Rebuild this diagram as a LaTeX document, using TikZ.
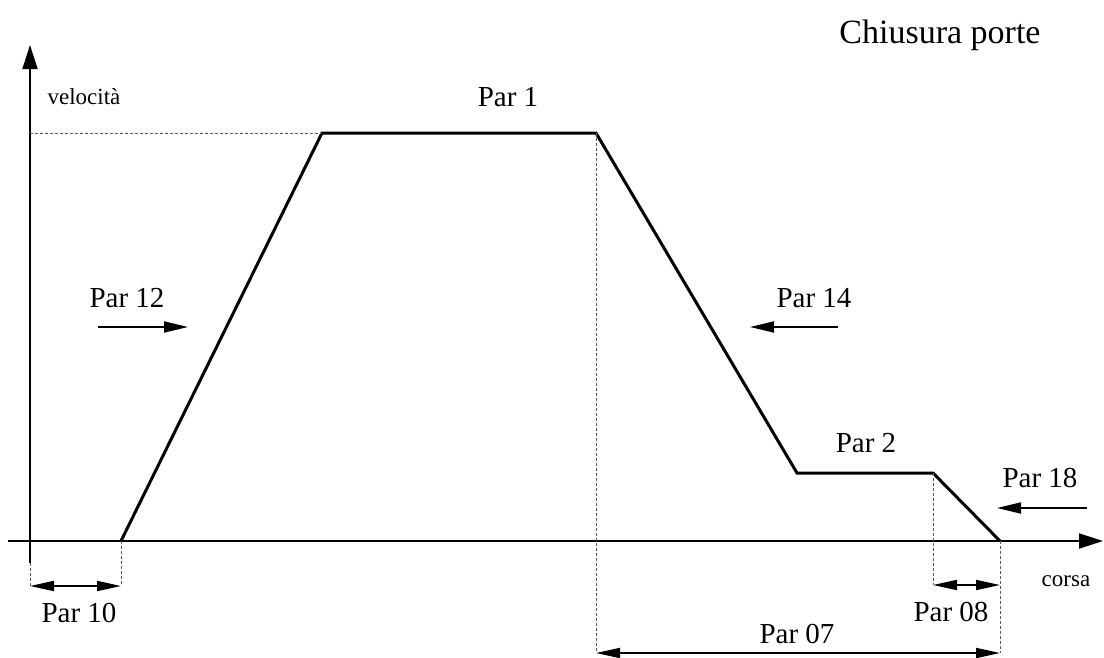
\documentclass[tikz,border=0pt]{standalone}
\usepackage{fontspec}
\setmainfont{Liberation Serif}
\usetikzlibrary{arrows.meta}
\begin{document}
\begin{tikzpicture}[x=1pt,y=-1pt,
  axis/.style={line width=1.8pt,-{Triangle[length=24pt,width=15pt]}},
  profile/.style={line width=3pt,line join=miter},
  guide/.style={line width=0.8pt,gray!70!black,dash pattern=on 3pt off 2pt},
  onearrow/.style={line width=1.8pt,-{Triangle[length=24pt,width=11pt]}},
  dimarrow/.style={line width=1.8pt,{Triangle[length=24pt,width=10pt]}-{Triangle[length=24pt,width=10pt]}},
  lbl/.style={inner sep=0pt,font=\fontsize{29}{32}\selectfont},
  small/.style={inner sep=0pt,font=\fontsize{23}{26}\selectfont},
  title/.style={inner sep=0pt,font=\fontsize{34}{37}\selectfont}]
\useasboundingbox (0,0) rectangle (1104,657);
% axes
\coordinate (ybot) at (30,563);
\coordinate (ytop) at (30,45);
\coordinate (xl) at (8,541);
\coordinate (xr) at (1103,541);
\draw[axis] (ybot) -- (ytop);
\draw[axis] (xl) -- (xr);
% profile
\coordinate (p0) at (121,541);
\coordinate (p1) at (322,133);
\coordinate (p2) at (596,133);
\coordinate (p3) at (797,473);
\coordinate (p4) at (933,473);
\coordinate (p5) at (1000,541);
\draw[profile] (p0) -- (p1) -- (p2) -- (p3) -- (p4) -- (p5);
% guides
\coordinate (g0) at (30,133);
\coordinate (gy) at (30,586);
\coordinate (g10) at (121,586);
\coordinate (g08) at (933,585);
\coordinate (g08b) at (1000,585);
\coordinate (g07a) at (596,653);
\coordinate (g07b) at (1000,653);
\draw[guide] (g0) -- (p1);
\draw[guide] (ybot) -- (gy);
\draw[guide] (p0) -- (g10);
\draw[guide] (p2) -- (g07a);
\draw[guide] (p4) -- (g08);
\draw[guide] (p5) -- (g07b);
% dimension arrows
\draw[dimarrow] (gy) -- (g10);
\draw[dimarrow] (g08) -- (g08b);
\draw[dimarrow] (g07a) -- (g07b);
% direction arrows
\coordinate (a12s) at (98,327);
\coordinate (a12e) at (188,327);
\coordinate (a14s) at (838,327);
\coordinate (a14e) at (750,327);
\coordinate (a18s) at (1087,508);
\coordinate (a18e) at (997,508);
\draw[onearrow] (a12s) -- (a12e);
\draw[onearrow] (a14s) -- (a14e);
\draw[onearrow] (a18s) -- (a18e);
% labels
\node[title] (title) at (940,35) {Chiusura porte};
\node[small] (vel) at (84,97) {velocità};
\node[small] (corsa) at (1066,581) {corsa};
\node[lbl] (par1) at (508,97) {Par 1};
\node[lbl] (par12) at (127,298) {Par 12};
\node[lbl] (par14) at (814,298) {Par 14};
\node[lbl] (par2) at (866,443) {Par 2};
\node[lbl] (par18) at (1040,478) {Par 18};
\node[lbl] (par10) at (79,613) {Par 10};
\node[lbl] (par08) at (951,612) {Par 08};
\node[lbl] (par07) at (797,634) {Par 07};
\end{tikzpicture}
\end{document}
